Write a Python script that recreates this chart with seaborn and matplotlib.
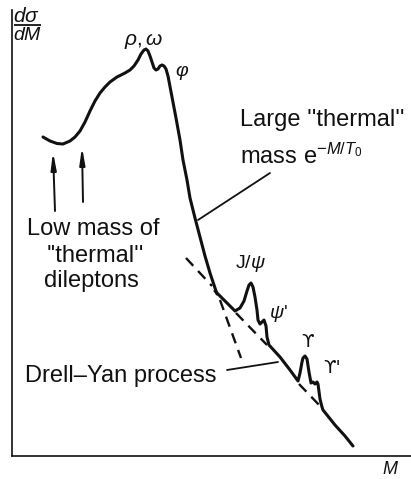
import matplotlib
matplotlib.use("Agg")
import matplotlib.pyplot as plt
import seaborn as sns
import pandas as pd

# Schematic dilepton mass spectrum (arbitrary units: M along x, dsigma/dM up)
thermal_m = [31, 38, 45, 51, 58, 63, 68, 73, 78, 83, 88, 93, 98, 105, 113, 118,
             122, 126, 129, 132, 134, 136, 138, 140, 142, 144, 146, 148, 150,
             152, 154, 156, 160, 164, 168, 171, 175, 178, 183, 188, 193, 198,
             202, 205]
thermal_s = [319, 315, 312.5, 312, 315, 319, 325, 334, 345, 355, 363, 369, 374,
             379, 383, 386, 390, 396, 402, 406, 407, 405, 400, 394, 388, 386,
             387, 390, 391, 390, 387, 380, 359, 338, 316, 296, 276, 258, 238,
             219, 200, 183, 171, 162]

# steep continuation of the thermal exponential
thermal_tail_m = [208, 229]
thermal_tail_s = [156, 98]

# Drell-Yan continuum with J/psi, psi', Upsilon, Upsilon' peaks on top
dy_m = [203, 213, 223, 228, 232, 235, 237, 239, 241, 243, 245, 246, 248, 250,
        252, 254, 255, 257, 268, 278, 286, 288, 290, 291, 293, 295, 297, 299,
        301, 303, 305, 306, 308, 310, 311, 323, 333, 341]
dy_s = [165, 155, 145, 148, 155, 165, 171, 173, 169, 159, 146, 136, 132, 134,
        136, 130, 119, 111, 99, 86, 75, 83, 94, 98, 100, 97, 84, 73, 74, 72,
        74, 72, 57, 49, 46, 31, 20, 10]

# bare Drell-Yan continuum (dashed) where it is hidden or extrapolated
dy_dash_segments = [
    ([174, 200], [198, 170]),
    ([224, 255], [143, 111]),
    ([287, 310], [72, 48]),
]

fig = plt.figure(figsize=(4.11, 4.79), dpi=100)
sns.set_style("white")
plt.rcParams["font.family"] = ["Liberation Sans", "DejaVu Sans"]
plt.rcParams["mathtext.fontset"] = "custom"
plt.rcParams["mathtext.rm"] = "Liberation Sans"
plt.rcParams["mathtext.it"] = "Liberation Sans:italic"
plt.rcParams["mathtext.bf"] = "Liberation Sans:bold"

ax = fig.add_axes([12 / 411, 23 / 479, 399 / 411, 446 / 479])
ax.set_xlim(0, 399)
ax.set_ylim(0, 446)

ink = "#111111"
solid_lw = 2.2
dash_style = (0, (4.5, 3.0))

sns.lineplot(data=pd.DataFrame({"M": thermal_m, "S": thermal_s}), x="M", y="S",
             sort=False, estimator=None, color=ink, lw=solid_lw, ax=ax)
sns.lineplot(data=pd.DataFrame({"M": dy_m, "S": dy_s}), x="M", y="S",
             sort=False, estimator=None, color=ink, lw=solid_lw, ax=ax)
sns.lineplot(x=thermal_tail_m, y=thermal_tail_s, sort=False, estimator=None,
             color=ink, lw=1.7, linestyle=dash_style, ax=ax)
for xs, ys in dy_dash_segments:
    sns.lineplot(x=xs, y=ys, sort=False, estimator=None, color=ink, lw=1.7,
                 linestyle=dash_style, ax=ax)

# leader lines from labels to the curves
ax.plot([258, 186], [283, 236], color=ink, lw=1.3)
ax.plot([215, 266], [86, 94], color=ink, lw=1.3)

# arrows pointing at the low-mass region
arrow = dict(arrowstyle="-|>,head_length=1.0,head_width=0.16", color=ink, lw=1.4,
             shrinkA=0, shrinkB=0)
ax.annotate("", xy=(41, 304), xytext=(43, 245), arrowprops=arrow)
ax.annotate("", xy=(70, 309), xytext=(71, 254), arrowprops=arrow)

# axes
for side in ("top", "right"):
    ax.spines[side].set_visible(False)
for side in ("left", "bottom"):
    ax.spines[side].set_color(ink)
    ax.spines[side].set_linewidth(1.2)
ax.set_xticks([])
ax.set_yticks([])
ax.set_xlabel("")
ax.set_ylabel("")

fs = 17
ax.text(228, 330, "Large ''thermal''", fontsize=fs, ha="left", va="baseline", color=ink)
ax.text(228, 292, r"mass e$^{-\mathit{M/T_0}}$", fontsize=fs, ha="left", va="baseline", color=ink)
ax.text(81, 221, "Low mass of", fontsize=fs, ha="center", va="baseline", color=ink)
ax.text(83, 194, "''thermal''", fontsize=fs, ha="center", va="baseline", color=ink)
ax.text(79, 169, "dileptons", fontsize=fs, ha="center", va="baseline", color=ink)
ax.text(13, 74, "Drell–Yan process", fontsize=fs, ha="left", va="baseline", color=ink)

ax.text(132, 415, r"$\rho,\omega$", fontsize=15, ha="center", va="center", color=ink,
        fontfamily="DejaVu Sans")
ax.text(170, 383, r"$\varphi$", fontsize=14, ha="center", va="center", color=ink)
ax.text(238, 193, r"J/$\psi$", fontsize=14, ha="center", va="center", color=ink)
ax.text(266, 143, r"$\psi$'", fontsize=14, ha="center", va="center", color=ink)
ax.text(296, 114, "ϒ", fontsize=13, ha="center", va="center", color=ink,
        family=["DejaVu Sans"])
ax.text(320, 88, "ϒ'", fontsize=13, ha="center", va="center", color=ink,
        family=["DejaVu Sans"])

ax.text(378, -14, "M", fontsize=13, ha="center", va="center", color=ink,
        style="italic", clip_on=False)

# d sigma / d M on the vertical axis
ax.text(14, 439, r"$d\sigma$", fontsize=15, ha="center", va="center", color=ink)
ax.plot([2, 29], [431, 431], color=ink, lw=1.3, solid_capstyle="butt")
ax.text(16, 421, r"$dM$", fontsize=14, ha="center", va="center", color=ink)

fig.savefig("out.png", dpi=100)
